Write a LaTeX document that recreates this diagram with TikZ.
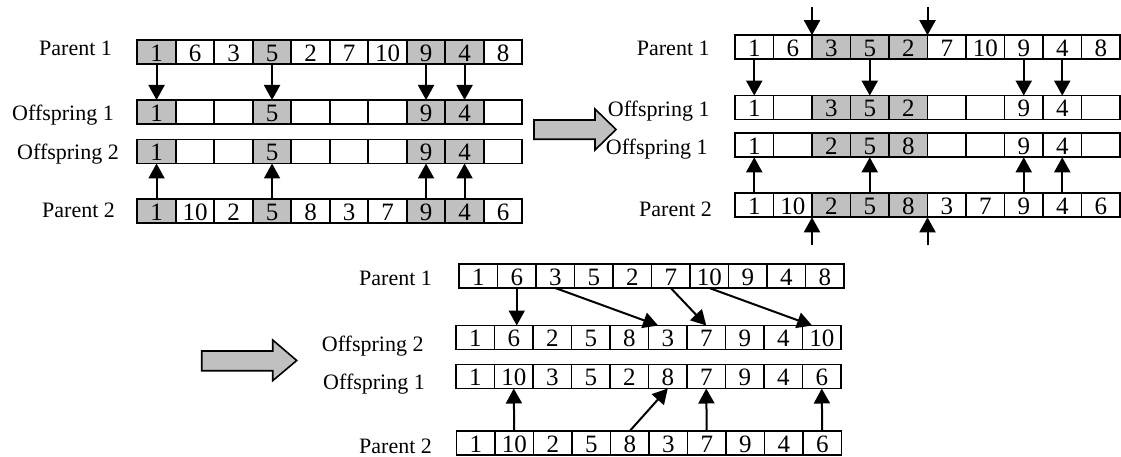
\documentclass[tikz,border=0pt]{standalone}
\usepackage{fontspec}
\setmainfont{Liberation Serif}
\usetikzlibrary{arrows.meta,calc}
\definecolor{shade}{RGB}{192,192,192}
\tikzset{
  cell/.style={draw=black, line width=1.8pt, minimum width=38.5pt, minimum height=24pt,
    inner sep=0pt, outer sep=0pt, font=\fontsize{25}{28}\selectfont,
    text height=18.8pt, text depth=0pt},
  g/.style={fill=shade},
  w/.style={fill=white},
  lbl/.style={anchor=base west, inner sep=0pt, font=\fontsize{22}{26}\selectfont},
  arr/.style={line width=2pt, -{Triangle[length=15pt,width=16pt]}},
  block/.style={draw=black, line width=1.6pt, fill=shade, line join=miter},
}
% one chromosome: name, left x, centre y, list of value/shade pairs
\newcommand\cellrow[4]{%
  \foreach \v/\s [count=\i] in {#4}
    \node[cell,\s] (#1-\i) at ({#2+(\i-0.5)*38.5}, #3) {\v};
}
\begin{document}
\begin{tikzpicture}[x=1pt,y=-1pt]
\useasboundingbox (0,0) rectangle (1121,457);

% ---------- step 1: common genes ----------
\cellrow{aP}{137.3}{52}{1/g,6/w,3/w,5/g,2/w,7/w,10/w,9/g,4/g,8/w}
\cellrow{aO}{137.3}{112}{1/g,/w,/w,5/g,/w,/w,/w,9/g,4/g,/w}
\cellrow{aT}{137.3}{151.5}{1/g,/w,/w,5/g,/w,/w,/w,9/g,4/g,/w}
\cellrow{aQ}{137.3}{211}{1/g,10/w,2/w,5/g,8/w,3/w,7/w,9/g,4/g,6/w}
\node[lbl] (aPl) at (39,55.3) {Parent 1};
\node[lbl] (aOl) at (12,120.7) {Offspring 1};
\node[lbl] (aTl) at (17,159.3) {Offspring 2};
\node[lbl] (aQl) at (42,217.7) {Parent 2};
\foreach \k in {1,4,8,9} {
  \draw[arr] (aP-\k.south) -- (aO-\k.north);
  \draw[arr] (aQ-\k.north) -- (aT-\k.south);
}

\draw[block] (534,120) -- (595,120) -- (595,109) -- (616,129.5) -- (595,150)
  -- (595,139.3) -- (534,139.3) -- cycle;

% ---------- step 2: crossover segment ----------
\cellrow{bP}{735}{47.2}{1/w,6/w,3/g,5/g,2/g,7/w,10/w,9/w,4/w,8/w}
\cellrow{bO}{735}{107.6}{1/w,/w,3/g,5/g,2/g,/w,/w,9/w,4/w,/w}
\cellrow{bT}{735}{145.3}{1/w,/w,2/g,5/g,8/g,/w,/w,9/w,4/w,/w}
\cellrow{bQ}{735}{205.3}{1/w,10/w,2/g,5/g,8/g,3/w,7/w,9/w,4/w,6/w}
\node[lbl] (bPl) at (636.7,56) {Parent 1};
\node[lbl] (bOl) at (607.7,116.7) {Offspring 1};
\node[lbl] (bTl) at (605.7,155) {Offspring 1};
\node[lbl] (bQl) at (639,216) {Parent 2};
\foreach \k in {1,4,8,9} {
  \draw[arr] (bP-\k.south) -- (bO-\k.north);
  \draw[arr] (bQ-\k.north) -- (bT-\k.south);
}
\coordinate (cutTa) at (812,7);
\coordinate (cutTb) at (927.5,7);
\coordinate (cutBa) at (812,245);
\coordinate (cutBb) at (927.5,245);
\draw[arr] (cutTa) -- (bP-2.north east);
\draw[arr] (cutTb) -- (bP-5.north east);
\draw[arr] (cutBa) -- (bQ-2.south east);
\draw[arr] (cutBb) -- (bQ-5.south east);

\draw[block] (201.7,351) -- (272.7,351) -- (272.7,340) -- (296.7,360.5) -- (272.7,380.7)
  -- (272.7,370.7) -- (201.7,370.7) -- cycle;

% ---------- step 3: filling the remaining genes ----------
\cellrow{cP}{459}{276}{1/w,6/w,3/w,5/w,2/w,7/w,10/w,9/w,4/w,8/w}
\cellrow{cT}{456}{337.5}{1/w,6/w,2/w,5/w,8/w,3/w,7/w,9/w,4/w,10/w}
\cellrow{cO}{456}{376.5}{1/w,10/w,3/w,5/w,2/w,8/w,7/w,9/w,4/w,6/w}
\cellrow{cQ}{456.5}{443}{1/w,10/w,2/w,5/w,8/w,3/w,7/w,9/w,4/w,6/w}
\node[lbl] (cPl) at (359,285) {Parent 1};
\node[lbl] (cTl) at (321.7,351) {Offspring 2};
\node[lbl] (cOl) at (323,389.3) {Offspring 1};
\node[lbl] (cQl) at (359,453.3) {Parent 2};
\draw[arr] (cP-2.south) -- (cP-2.south |- cT-2.north);
\draw[arr] (cP-3.south) -- ($(cT-6.north)!0.5!(cT-6.north west)$);
\draw[arr] (cP-6.south) -- (cT-7.north);
\draw[arr] (cP-7.south) -- ($(cT-10.north)!0.5!(cT-10.north west)$);
\draw[arr] (cQ-2.north) -- (cO-2.south);
\draw[arr] (cQ-5.north) -- (cO-6.south);
\draw[arr] (cQ-7.north) -- (cO-7.south);
\draw[arr] (cQ-10.north) -- (cO-10.south);
\end{tikzpicture}
\end{document}
